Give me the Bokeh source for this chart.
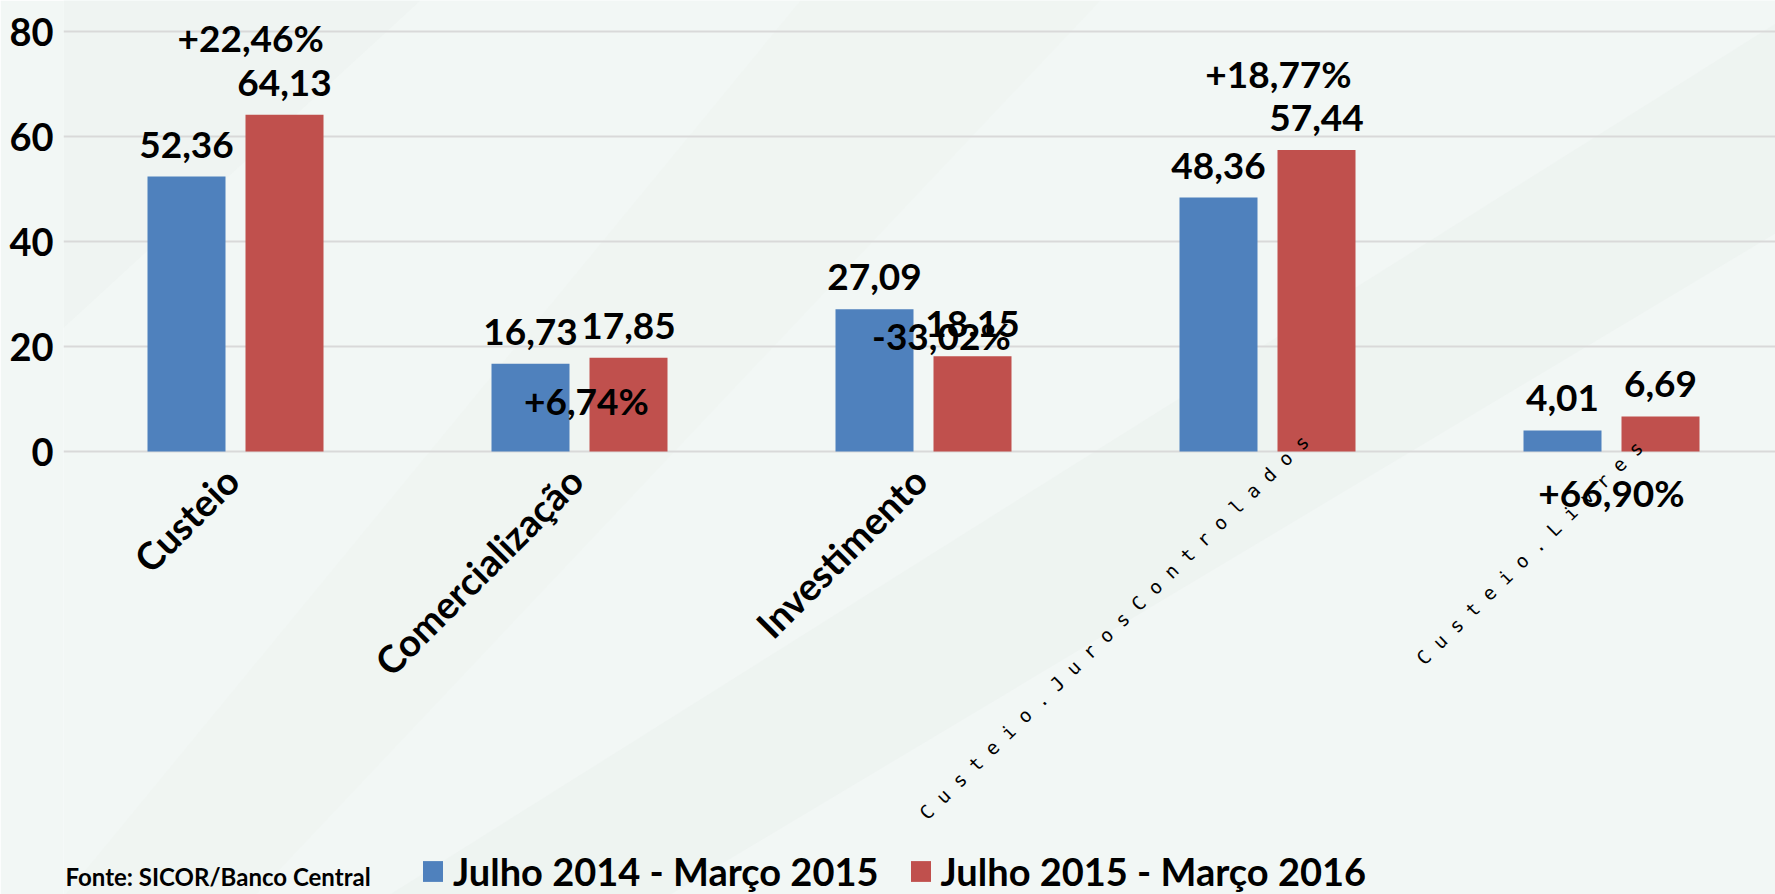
import math
from bokeh.plotting import figure
from bokeh.models import Range1d, FixedTicker, Legend, LegendItem, Label
from bokeh.core.properties import value
from bokeh.embed import file_html
from bokeh.resources import INLINE

# ---------------- data ----------------
categories = ["Custeio", "Comercialização", "Investimento",
              "Custeio - Juros Controlados", "Custeio - Livres"]
# labels as they appear on the axis (the last two are drawn spaced/thin)
category_labels = ["Custeio", "Comercialização", "Investimento",
                   "C u s t e i o . J u r o s C o n t r o l a d o s",
                   "C u s t e i o . L i v r e s"]
series_names = ["Julho 2014 - Março 2015", "Julho 2015 - Março 2016"]
values_2014 = [52.36, 16.73, 27.09, 48.36, 4.01]
values_2015 = [64.13, 17.85, 18.15, 57.44, 6.69]
pct_change = ["+22,46%", "+6,74%", "-33,02%", "+18,77%", "+66,90%"]
y_ticks = [0, 20, 40, 60, 80]
source_note = "Fonte: SICOR/Banco Central"

# ---------------- layout / style ----------------
W, H = 1775, 894
LEFT = 63
PX_PER_CAT = 344.0
PX_PER_UNIT = 5.25
Y_TOP = 80 + 31 / PX_PER_UNIT
Y_BOT = Y_TOP - H / PX_PER_UNIT

BLUE = "#4f81bd"
RED = "#c0504d"
BG = "#f2f7f5"
BAND = "#e7eeeb"
FONT = "Lato"

# percentage label placement (offset from category centre, y in data units)
pct_dx = [0.044, 0.02, 0.052, 0.032, 0.0]
pct_y = [76.2, 7.0, 19.4, 69.3, -10.5]

BAR_W = 78 / PX_PER_CAT
BAR_OFF = 49 / PX_PER_CAT

p = figure(width=W, height=H, output_backend="svg", toolbar_location=None,
           x_range=Range1d(-0.5, -0.5 + (W - LEFT) / PX_PER_CAT),
           y_range=Range1d(Y_BOT, Y_TOP),
           x_axis_location=None,
           min_border_left=LEFT, min_border_right=0,
           min_border_top=0, min_border_bottom=0)

p.background_fill_color = BG
p.border_fill_color = BG
p.outline_line_color = None

# subtle diagonal background bands (decoration, defined in page pixels)
def px2d(px, py):
    return (px - LEFT) / PX_PER_CAT - 0.5, Y_TOP - py / PX_PER_UNIT

bands_px = [
    [(380, 900), (660, 900), (1780, 230), (1780, 20)],
    [(60, 0), (420, 0), (60, 330)],
    [(60, 900), (250, 900), (1100, 0), (800, 0)],
]
band_x, band_y = [], []
for poly in bands_px:
    pts = [px2d(a, b) for a, b in poly]
    band_x.append([q[0] for q in pts])
    band_y.append([q[1] for q in pts])
p.patches(band_x, band_y, fill_color=BAND, fill_alpha=[0.35, 0.3, 0.18],
          line_color=None, level="underlay")

p.xgrid.visible = False
p.ygrid.ticker = FixedTicker(ticks=y_ticks)
p.ygrid.grid_line_color = "#d9d9d9"
p.ygrid.grid_line_width = 2

yax = p.yaxis[0]
yax.ticker = FixedTicker(ticks=y_ticks)
yax.axis_line_color = None
yax.major_tick_line_color = None
yax.minor_tick_line_color = None
yax.major_tick_out = 0
yax.major_label_standoff = 10
yax.major_label_text_font = FONT
yax.major_label_text_font_style = "bold"
yax.major_label_text_font_size = "38px"
yax.major_label_text_color = "#000000"

idx = list(range(len(categories)))
x_a = [i - BAR_OFF for i in idx]
x_b = [i + BAR_OFF for i in idx]

r1 = p.vbar(x=x_a, top=values_2014, bottom=0, width=BAR_W, fill_color=BLUE, line_color=None)
r2 = p.vbar(x=x_b, top=values_2015, bottom=0, width=BAR_W, fill_color=RED, line_color=None)

def fmt(v):
    return f"{v:.2f}".replace(".", ",")

txt_kw = dict(text_font=value(FONT), text_font_style="bold", text_font_size="37px",
              text_color="#000000", text_align="center", text_baseline="alphabetic")

p.text(x=x_a, y=values_2014, text=[fmt(v) for v in values_2014], y_offset=-32, **txt_kw)
p.text(x=x_b, y=values_2015, text=[fmt(v) for v in values_2015], y_offset=-32, **txt_kw)

p.text(x=[i + d for i, d in zip(idx, pct_dx)], y=pct_y, text=pct_change, y_offset=-14, **txt_kw)

# bold rotated category labels
p.text(x=idx[:3], y=[0, 0, 0], text=category_labels[:3], angle=math.pi / 4,
       x_offset=-4, y_offset=22,
       text_font=value(FONT), text_font_style="bold", text_font_size="38px",
       text_color="#000000", text_align="right", text_baseline="middle")

# thin spaced labels
thin_kw = dict(angle=math.radians(44.6), text_font=value("DejaVu Sans Mono"),
               text_font_size="19px", text_color="#000000",
               text_align="right", text_baseline="middle")
p.text(x=[idx[3]], y=[0], text=[category_labels[3]], x_offset=38, y_offset=-13, **thin_kw)
p.text(x=[idx[4]], y=[0], text=[category_labels[4]], x_offset=28, y_offset=-7, **thin_kw)

legend = Legend(items=[LegendItem(label=series_names[0], renderers=[r1]),
                       LegendItem(label=series_names[1], renderers=[r2])],
                orientation="horizontal", location=(357, 0),
                label_text_font=FONT, label_text_font_style="bold",
                label_text_font_size="38px", label_text_color="#000000",
                glyph_width=25, glyph_height=26, label_standoff=8, spacing=29,
                padding=0, margin=0, border_line_color=None,
                background_fill_alpha=0)
p.add_layout(legend)

p.add_layout(Label(x=2, y=4, x_units="screen", y_units="screen", text=source_note,
                   text_font=FONT, text_font_style="bold", text_font_size="24px",
                   text_color="#000000"))

open("out.html", "w").write(file_html(p, INLINE))
